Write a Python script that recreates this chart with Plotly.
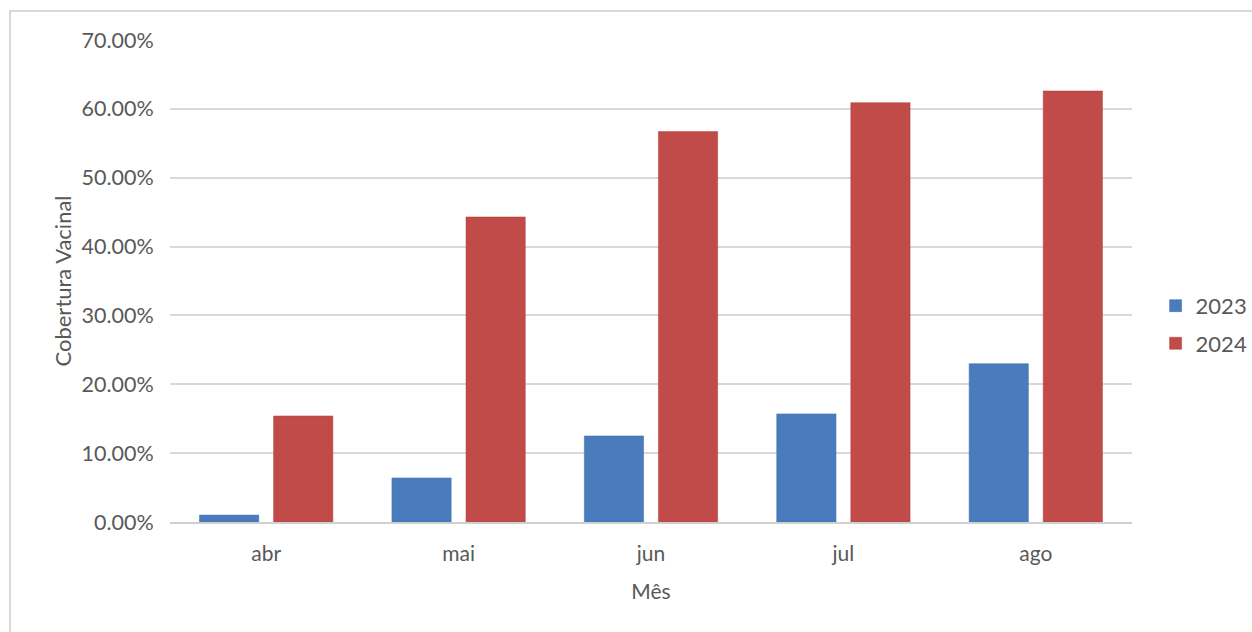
import plotly.graph_objects as go

months = ["abr", "mai", "jun", "jul", "ago"]
cov_2023 = [0.010, 0.064, 0.125, 0.157, 0.230]
cov_2024 = [0.154, 0.443, 0.567, 0.609, 0.626]
series_names = ["2023", "2024"]
y_ticks = [0, 0.1, 0.2, 0.3, 0.4, 0.5, 0.6, 0.7]

FONT = "Lato, 'Open Sans', sans-serif"
GRAY = "#595959"

fig = go.Figure()
fig.add_trace(go.Bar(x=months, y=cov_2023, name=series_names[0], legendgroup="a",
                     marker=dict(color="#4a7cbd", line=dict(color="#3f6ea8", width=0.5))))
fig.add_trace(go.Bar(x=months, y=cov_2024, name=series_names[1], legendgroup="b",
                     marker=dict(color="#c04b48", line=dict(color="#b0403d", width=0.5))))

fig.update_layout(
    width=1252, height=632,
    margin=dict(l=170, r=120, t=40, b=110, autoexpand=False),
    paper_bgcolor="white", plot_bgcolor="white",
    barmode="group", bargap=0.23, bargroupgap=0.2,
    font=dict(family=FONT, color=GRAY, size=21),
    legend=dict(xref="container", yref="container", x=0.923, y=0.486,
                xanchor="left", yanchor="middle",
                font=dict(size=22, color=GRAY), itemwidth=30,
                tracegroupgap=6),
    shapes=[dict(type="rect", xref="paper", yref="paper",
                 x0=-160/962, x1=1.5, y0=-0.5, y1=(482 + 29) / 482,
                 line=dict(color="#d9d9d9", width=2), fillcolor="rgba(0,0,0,0)",
                 layer="below")],
)
fig.update_xaxes(
    title=dict(text="Mês", font=dict(size=21, color=GRAY), standoff=20),
    tickfont=dict(size=21, color=GRAY),
    showline=True, linecolor="#d0d0d0", linewidth=2,
    ticks="outside", ticklen=12, tickcolor="white", showgrid=False,
)
fig.update_yaxes(
    title=dict(text="Cobertura Vacinal", font=dict(size=22, color=GRAY), standoff=3),
    range=[0, 0.70], tickvals=y_ticks, tickformat=".2%",
    tickfont=dict(size=21.5, color=GRAY),
    showgrid=True, gridcolor="#d9d9d9", gridwidth=1.5,
    zeroline=False, ticks="outside", ticklen=11, tickcolor="white",
)

fig.write_html("out.html")
